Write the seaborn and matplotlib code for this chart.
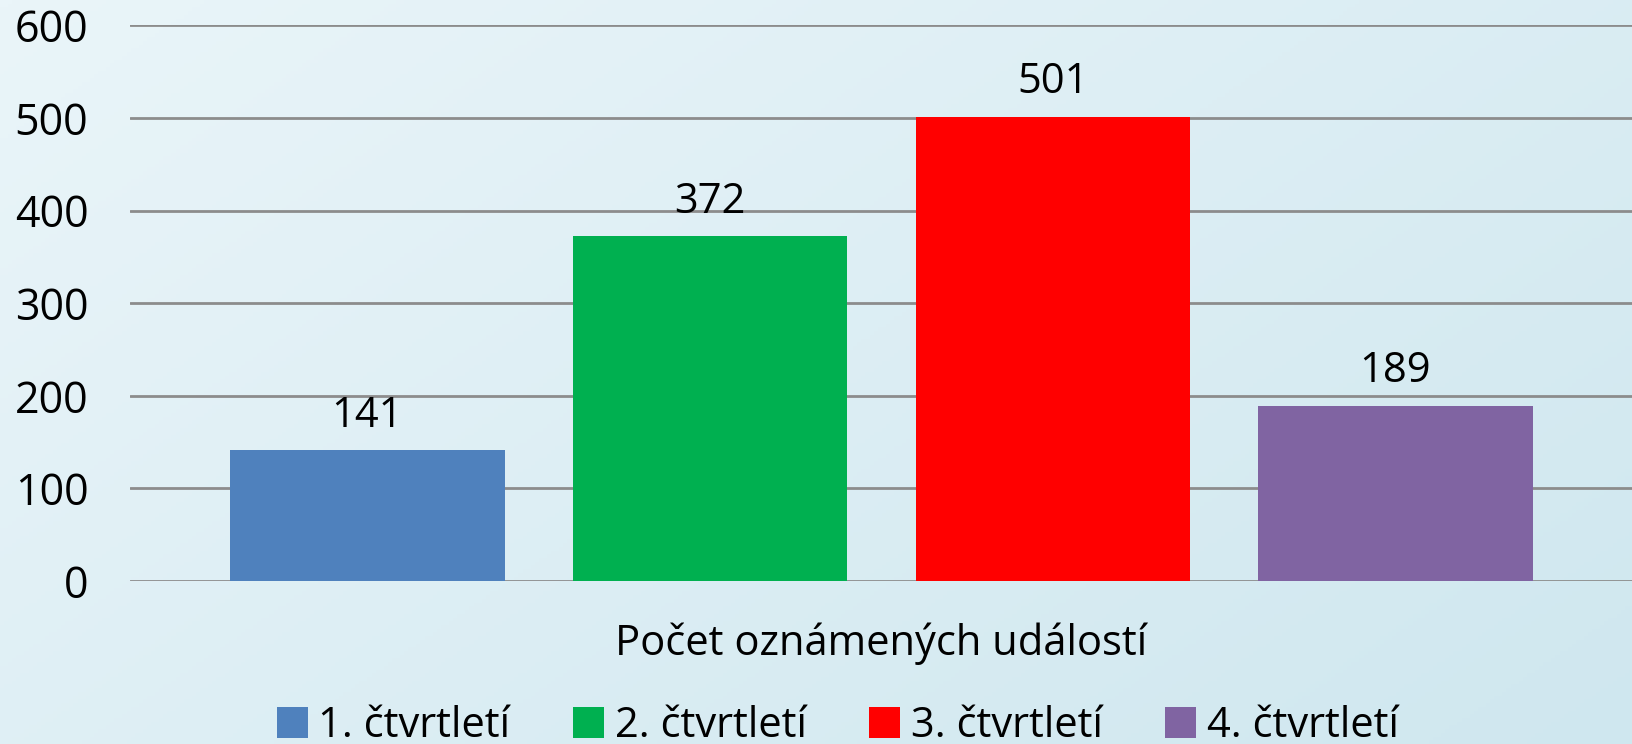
import numpy as np
import pandas as pd
import matplotlib
matplotlib.use("Agg")
import matplotlib.pyplot as plt
import seaborn as sns
from matplotlib.colors import LinearSegmentedColormap

category = ["Počet oznámených událostí"]
quarters = ["1. čtvrtletí", "2. čtvrtletí", "3. čtvrtletí", "4. čtvrtletí"]
values = [141, 372, 501, 189]
colors = ["#4F81BD", "#00B050", "#FF0000", "#8064A2"]
yticks = [0, 100, 200, 300, 400, 500, 600]

sns.set_theme(style="white")
plt.rcParams['font.family'] = ['Open Sans', 'DejaVu Sans']
plt.rcParams['text.color'] = 'black'
plt.rcParams['xtick.color'] = 'black'
plt.rcParams['ytick.color'] = 'black'

df = pd.DataFrame({"kat": category * len(quarters), "q": quarters, "v": values})

fig = plt.figure(figsize=(16.33, 7.44), dpi=100)

# gradient background
bg = fig.add_axes([0, 0, 1, 1], zorder=-10)
cmap = LinearSegmentedColormap.from_list("bg", ["#eaf5f9", "#cfe7ef"])
yy, xx = np.mgrid[0:1:200j, 0:1:400j]
grad = (xx * 0.6 + yy * 0.4)
bg.imshow(grad, cmap=cmap, aspect="auto", extent=[0, 1, 0, 1], origin="upper")
bg.axis("off")

ax = fig.add_axes([0.0796, 0.219, 0.9204, 0.747])
ax.set_facecolor("none")
sns.barplot(data=df, x="kat", y="v", hue="q", palette=colors, ax=ax,
            width=0.912, gap=0.2, saturation=1, legend=True, zorder=3,
            linewidth=0, edgecolor="none")

ax.set_ylim(0, 600)
ax.set_xlim(-0.5, 0.5)
ax.set_yticks(yticks)
ax.set_yticklabels([str(t) for t in yticks], fontsize=31)
ax.tick_params(axis="y", length=0, pad=30)
ax.tick_params(axis="x", length=0, labelsize=30, pad=30)
ax.set_xlabel("")
ax.set_ylabel("")
ax.yaxis.grid(True, color="#8c8c8c", linewidth=2)
ax.set_axisbelow(True)
for s in ax.spines.values():
    s.set_visible(False)

for c in ax.containers:
    ax.bar_label(c, labels=[f"{v:.0f}" for v in c.datavalues], padding=10, fontsize=30)

h, l = ax.get_legend_handles_labels()
ax.legend_.remove()
fig.legend(h, l, loc="center", bbox_to_anchor=(0.513, 0.024), ncol=4, frameon=False,
           fontsize=30, handlelength=0.75, handleheight=0.75, handletextpad=0.25,
           columnspacing=1.5)

fig.savefig("out.png", dpi=100)
